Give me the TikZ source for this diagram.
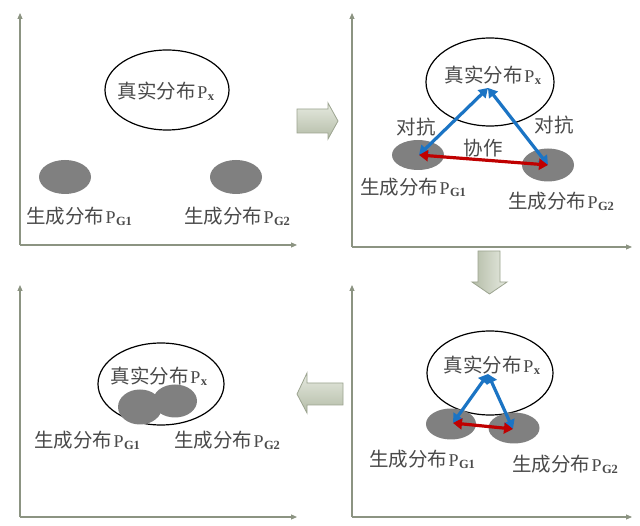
\documentclass[tikz,border=0pt]{standalone}
\usepackage{fontspec}
\setmainfont{Liberation Serif}
\newfontfamily\cjk{Noto Sans CJK SC}
\usetikzlibrary{shapes.geometric,arrows.meta}
\definecolor{axisc}{HTML}{8C9482}
\definecolor{txt}{HTML}{4A4A4A}
\definecolor{blob}{HTML}{808080}
\definecolor{bluea}{HTML}{1B74C4}
\definecolor{reda}{HTML}{C00000}
\definecolor{arrL}{HTML}{E6EAE0}
\definecolor{arrD}{HTML}{B4BCA7}
\definecolor{arrE}{HTML}{9CA490}
\newcommand\lsub[1]{\raisebox{-2pt}{\fontsize{12.5}{12.5}\selectfont\bfseries #1}}
\newcommand\dist[2]{{\cjk #1}\hspace{1.5pt}{\fontsize{18}{20}\selectfont P}\hspace{0.5pt}\lsub{#2}}
\begin{document}
\begin{tikzpicture}[x=1pt,y=-1pt,
  axis/.style={draw=axisc, line width=1.1pt, -{Triangle[length=6pt,width=5pt]}},
  real/.style={ellipse, draw=black, line width=1.2pt, inner sep=0pt},
  gen/.style={ellipse, fill=blob, inner sep=0pt},
  lbl/.style={text=txt, font=\fontsize{19.5}{21}\selectfont, inner sep=0pt},
  adv/.style={draw=bluea, line width=3.2pt, {Triangle[length=9pt,width=11pt]}-{Triangle[length=9pt,width=11pt]}},
  coop/.style={draw=reda, line width=3.2pt, {Triangle[length=9pt,width=11pt]}-{Triangle[length=9pt,width=11pt]}},
  bigarrow/.style={draw=arrE, line width=0.8pt}]
\useasboundingbox (0,0) rectangle (640,526);
\fill[white] (0,0) rectangle (640,526);

% ---------- Panel 1 ----------
\coordinate (o1) at (20,245);
\coordinate (y1) at (20,13);
\coordinate (x1) at (297,245);
\draw[axis] (o1) -- (y1);
\draw[axis] (o1) -- (x1);
\node[real, minimum width=124pt, minimum height=80pt] (r1) at (167,90) {};
\node[lbl] (r1t) at (166,91) {\dist{真实分布}{x}};
\node[gen, minimum width=52pt, minimum height=34pt] (a1) at (65,177) {};
\node[gen, minimum width=52pt, minimum height=34pt] (b1) at (236,177) {};
\node[lbl] (a1t) at (79,216) {\dist{生成分布}{G1}};
\node[lbl] (b1t) at (237,216) {\dist{生成分布}{G2}};

% ---------- Panel 2 ----------
\coordinate (o2) at (352,247);
\coordinate (y2) at (352,13);
\coordinate (x2) at (632,247);
\draw[axis] (o2) -- (y2);
\draw[axis] (o2) -- (x2);
\node[real, minimum width=128pt, minimum height=88pt] (r2) at (490,82) {};
\node[lbl] (r2t) at (493,75) {\dist{真实分布}{x}};
\node[gen, minimum width=52pt, minimum height=30pt] (a2) at (418,155) {};
\node[gen, minimum width=52pt, minimum height=33pt] (b2) at (548,165) {};
\coordinate (p2) at (488,88);
\coordinate (pa2) at (419,155);
\coordinate (pb2) at (548,165);
\draw[adv] (p2) -- (pa2);
\draw[adv] (p2) -- (pb2);
\draw[coop] (pa2) -- (pb2);
\node[lbl] (dl2) at (416,127) {\cjk 对抗};
\node[lbl] (dr2) at (554,125) {\cjk 对抗};
\node[lbl] (xz2) at (483,148) {\cjk 协作};
\node[lbl] (a2t) at (413,187) {\dist{生成分布}{G1}};
\node[lbl] (b2t) at (561,201) {\dist{生成分布}{G2}};

% ---------- Panel 3 ----------
\coordinate (o3) at (20,517);
\coordinate (y3) at (20,285);
\coordinate (x3) at (297,517);
\draw[axis] (o3) -- (y3);
\draw[axis] (o3) -- (x3);
\node[real, minimum width=126pt, minimum height=82pt] (r3) at (161,384) {};
\node[lbl] (r3t) at (159,376) {\dist{真实分布}{x}};
\node[gen, minimum width=44pt, minimum height=35pt] (a3) at (140,407) {};
\node[gen, minimum width=44pt, minimum height=33pt] (b3) at (175,401) {};
\node[lbl] (a3t) at (87,440) {\dist{生成分布}{G1}};
\node[lbl] (b3t) at (227,440) {\dist{生成分布}{G2}};

% ---------- Panel 4 ----------
\coordinate (o4) at (352,517);
\coordinate (y4) at (352,285);
\coordinate (x4) at (632,517);
\draw[axis] (o4) -- (y4);
\draw[axis] (o4) -- (x4);
\node[real, minimum width=126pt, minimum height=84pt] (r4) at (490,373) {};
\node[lbl] (r4t) at (492,365) {\dist{真实分布}{x}};
\node[gen, minimum width=50pt, minimum height=31pt] (a4) at (451,424) {};
\node[gen, minimum width=51pt, minimum height=31pt] (b4) at (514,428) {};
\coordinate (p4) at (488,374);
\coordinate (pa4) at (453,423);
\coordinate (pb4) at (513,429);
\draw[adv] (p4) -- (pa4);
\draw[adv] (p4) -- (pb4);
\draw[coop] (pa4) -- (pb4);
\node[lbl] (a4t) at (422,459) {\dist{生成分布}{G1}};
\node[lbl] (b4t) at (565,464) {\dist{生成分布}{G2}};

% ---------- Big arrows ----------
\shade[bigarrow, top color=arrL, bottom color=arrD]
  (297,109) -- (328,109) -- (328,103) -- (338,121) -- (328,139) -- (328,133) -- (297,133) -- cycle;
\shade[bigarrow, left color=arrD, right color=arrL]
  (478,251) -- (500,251) -- (500,282) -- (507,282) -- (489.5,294) -- (472,282) -- (478,282) -- cycle;
\shade[bigarrow, top color=arrL, bottom color=arrD]
  (343,383) -- (307,383) -- (307,373) -- (297,394) -- (307,413) -- (307,405) -- (343,405) -- cycle;
\end{tikzpicture}
\end{document}
